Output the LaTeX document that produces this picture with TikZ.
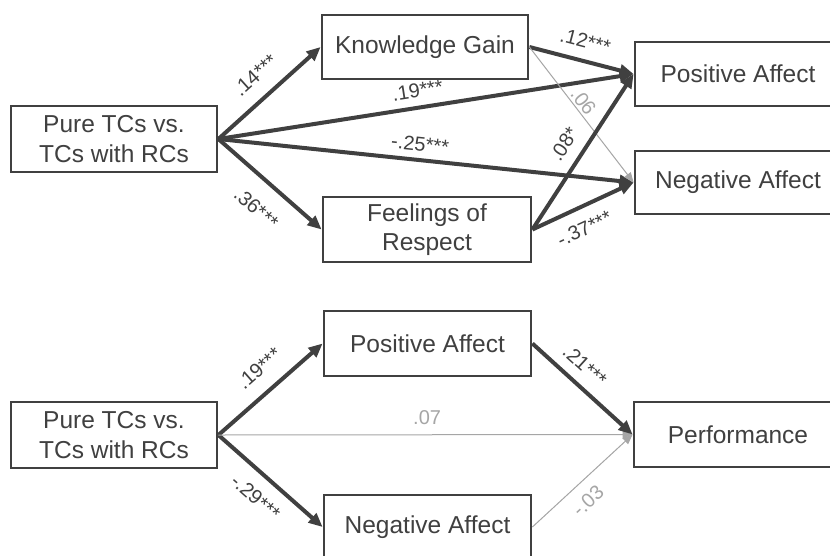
\documentclass[tikz,border=0pt]{standalone}
\usepackage{fontspec}
\setmainfont{Liberation Sans}
\usetikzlibrary{arrows.meta}
\definecolor{dark}{HTML}{404040}
\definecolor{lightg}{HTML}{A6A6A6}
\newcommand{\boxfont}{\fontsize{24.5}{29.5}\selectfont}
\newcommand{\labfont}{\fontsize{20}{22}\selectfont}
\tikzset{
  box/.style={draw=dark, line width=2.8pt, rectangle, minimum width=206pt, minimum height=65pt,
    inner sep=0pt, align=center, text=dark, font=\boxfont},
  strong/.style={draw=dark, line width=4pt, -{Triangle[length=14pt,width=12pt]}},
  weak/.style={draw=lightg, line width=1pt, -{Triangle[length=10pt,width=8pt]}},
  lab/.style={font=\labfont, text=dark, sloped, inner sep=0pt},
  wlab/.style={lab, text=lightg}
}
\begin{document}
\begin{tikzpicture}[x=1pt,y=-1pt]
\clip (0,0) rectangle (830,555);
\fill[white] (0,0) rectangle (830,555);
% top panel
\node[box, minimum height=66pt] (src1) at (114,139) {Pure TCs vs.\\TCs with RCs};
\node[box, minimum height=64pt] (kg) at (425,47) {Knowledge Gain};
\node[box, minimum width=208pt] (fr) at (427,229.5) {Feelings of\\Respect};
\node[box, minimum height=64pt] (pa1) at (738,74) {Positive Affect};
\node[box, minimum height=63pt] (na1) at (738,182.5) {Negative Affect};
\draw[strong] (src1.east) -- (kg.west) node[lab, pos=.51, above=14pt] {.14***};
\draw[strong] (src1.east) -- (fr.west) node[lab, pos=.54, below=18pt] {.36***};
\draw[strong] (src1.east) -- (pa1.west) node[lab, pos=.486, above=8pt] {.19***};
\draw[strong] (src1.east) -- (na1.west) node[lab, pos=.482, above=7pt] {-.25***};
\draw[strong] (kg.east) -- (pa1.west) node[lab, pos=.49, above=11pt] {.12***};
\draw[weak] (kg.east) -- (na1.west) node[wlab, pos=.446, above=2pt] {.06};
\draw[strong] (fr.east) -- (pa1.west) node[lab, pos=.478, above=11pt] {.08*};
\draw[strong] (fr.east) -- (na1.west) node[lab, pos=.426, below=12pt] {-.37***};
% bottom panel
\node[box, minimum height=66pt] (src2) at (114,435) {Pure TCs vs.\\TCs with RCs};
\node[box, minimum width=207pt] (pa2) at (427.5,343.5) {Positive Affect};
\node[box, minimum width=207pt, minimum height=64pt] (na2) at (427.5,527) {Negative Affect};
\node[box, minimum width=208pt] (perf) at (738,434.5) {Performance};
\draw[strong] (src2.east) -- (pa2.west) node[lab, pos=.537, above=14pt] {.19***};
\draw[strong] (src2.east) -- (na2.west) node[lab, pos=.497, below=13pt] {-.29***};
\draw[weak] (src2.east) -- (perf.west) node[wlab, pos=.504, above=10pt] {.07};
\draw[strong] (pa2.east) -- (perf.west) node[lab, pos=.397, above=10pt] {.21***};
\draw[weak] (na2.east) -- (perf.west) node[wlab, pos=.428, below=11pt] {-.03};
\end{tikzpicture}
\end{document}
